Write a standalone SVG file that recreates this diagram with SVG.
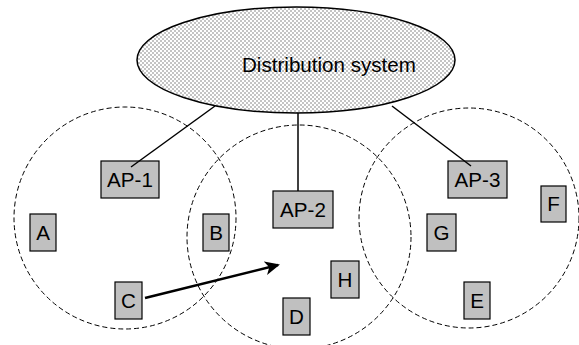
<svg xmlns="http://www.w3.org/2000/svg" width="579" height="345" viewBox="0 0 579 345">
  <style>
    text { font-family: "Liberation Sans", Arial, sans-serif; font-size: 20.6px; fill: #000; }
    .cell { fill: #c0c0c0; stroke: #000; stroke-width: 1.2; }
    .range { fill: none; stroke: #000; stroke-width: 1; stroke-dasharray: 5 3; }
    .link { stroke: #000; stroke-width: 1.5; fill: none; }
  </style>
  <defs>
    <pattern id="checker" width="4" height="4" patternUnits="userSpaceOnUse">
      <rect width="4" height="4" fill="#ffffff"/>
      <rect width="2" height="2" fill="#c4c4c4"/>
      <rect x="2" y="2" width="2" height="2" fill="#c4c4c4"/>
    </pattern>
    <marker id="arrow" markerWidth="15" markerHeight="14" refX="13" refY="7" orient="auto" markerUnits="userSpaceOnUse" viewBox="0 0 15 14">
      <path d="M0,0 L15,7 L0,14 L4,7 Z" fill="#000"/>
    </marker>
  </defs>

  <!-- coverage ranges -->
  <g id="ranges">
    <circle class="range" cx="125" cy="218" r="111"/>
    <circle class="range" cx="299" cy="237" r="112"/>
    <circle class="range" cx="469" cy="218" r="110"/>
  </g>

  <g id="distribution">
    <ellipse cx="296" cy="60" rx="159" ry="53" fill="url(#checker)" stroke="#000" stroke-width="1.5"/>
    <text x="242" y="72" font-size="21">Distribution system</text>
  </g>

  <g id="ap1"><rect class="cell" x="101" y="161" width="58" height="37"/><text x="130" y="187" text-anchor="middle">AP-1</text></g>
  <g id="ap2"><rect class="cell" x="273" y="191" width="60" height="37"/><text x="303" y="217" text-anchor="middle">AP-2</text></g>
  <g id="ap3"><rect class="cell" x="448" y="161" width="59" height="37"/><text x="477.5" y="187" text-anchor="middle">AP-3</text></g>
  <g id="a"><rect class="cell" x="30" y="214" width="26" height="37"/><text x="43" y="240" text-anchor="middle">A</text></g>
  <g id="b"><rect class="cell" x="203" y="214" width="26" height="37"/><text x="216" y="240" text-anchor="middle">B</text></g>
  <g id="c"><rect class="cell" x="115" y="282" width="27" height="37"/><text x="128.5" y="308" text-anchor="middle">C</text></g>
  <g id="d"><rect class="cell" x="283" y="298" width="27" height="37"/><text x="296.5" y="324" text-anchor="middle">D</text></g>
  <g id="e"><rect class="cell" x="464" y="282" width="26" height="37"/><text x="477" y="308" text-anchor="middle">E</text></g>
  <g id="f"><rect class="cell" x="541" y="186" width="25" height="36"/><text x="553.5" y="211" text-anchor="middle">F</text></g>
  <g id="g"><rect class="cell" x="427" y="214" width="29" height="37"/><text x="441.5" y="240" text-anchor="middle">G</text></g>
  <g id="h"><rect class="cell" x="331" y="261" width="28" height="37"/><text x="345" y="287" text-anchor="middle">H</text></g>

  <!-- connectors -->
  <g id="connectors">
    <line class="link" x1="215" y1="106" x2="131" y2="167"/>
    <line class="link" x1="298" y1="113" x2="298" y2="191"/>
    <line class="link" x1="392" y1="106" x2="471" y2="166"/>
    <line x1="145" y1="298" x2="278" y2="265" stroke="#000" stroke-width="2.5" marker-end="url(#arrow)"/>
  </g>
</svg>
